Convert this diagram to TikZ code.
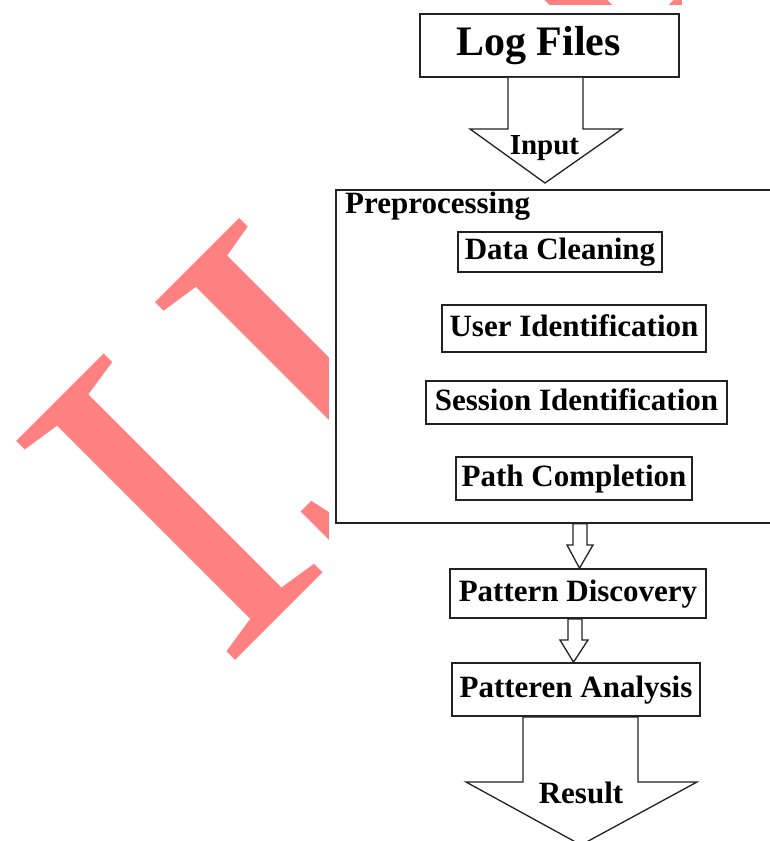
\documentclass[tikz,border=0pt]{standalone}
\usepackage{fontspec}
\setmainfont{Liberation Serif}
\definecolor{wmark}{RGB}{255,128,128}
\definecolor{lineclr}{RGB}{34,34,34}
\begin{document}
\begin{tikzpicture}[x=1pt,y=-1pt,
  box/.style={draw=lineclr, line width=1.7pt, fill=white, inner sep=0pt,
    font=\fontsize{31}{31}\selectfont\bfseries, text height=20.5pt, text depth=5pt},
  lbl/.style={inner sep=0pt, font=\fontsize{31}{31}\selectfont\bfseries},
  arr/.style={draw=lineclr, line width=1.3pt, line join=miter, fill=white}]
\useasboundingbox (0,0) rectangle (770,841);
% watermark, partly hidden behind the diagram
\node[rotate=45, anchor=base west, inner sep=0pt, text=wmark,
  font=\fontsize{473}{473}\selectfont] (wm) at (223.5,672.5) {IJ\kern-15pt A\kern-20pt R};
\fill[white] (329,4.5) rectangle (800,860);
\fill[white] (682,-10) rectangle (800,5);
% Log Files
\node[box, minimum width=259pt, minimum height=63pt] (log) at (549.5,45.5) {};
\node[lbl, anchor=base, font=\fontsize{42}{42}\selectfont\bfseries] (logt) at (538.5,55) {Log Files};
% Input arrow
\draw[arr] (508,0 |- log.south) -- (508,129) -- (470,129) -- (545,183) -- (622,129) -- (583,129) -- (583,0 |- log.south);
\node[lbl, anchor=base, font=\fontsize{29}{29}\selectfont\bfseries] (inp) at (544.5,154.3) {Input};
% Preprocessing container
\node[box, anchor=north west, minimum width=445pt, minimum height=333pt] (pre) at (335,189) {};
\node[lbl, anchor=base west] (pret) at (345,213) {Preprocessing};
\node[box, minimum width=204pt, minimum height=40pt] (dc) at (560,252) {Data Cleaning};
\node[box, minimum width=264pt, minimum height=47pt] (ui) at (574,328.5) {User Identification};
\node[box, minimum width=301pt, minimum height=43pt] (si) at (576.5,402.5) {Session Identification};
\node[box, minimum width=236pt, minimum height=43pt] (pc) at (574,478.5) {Path Completion};
% Pattern Discovery / Analysis
\node[box, minimum width=256pt, minimum height=49pt] (pd) at (578,593.5) {Pattern Discovery};
\node[box, minimum width=248pt, minimum height=53pt] (pa) at (576,689.5) {Patteren Analysis};
% small arrows
\draw[arr] (573,0 |- pre.south) -- (573,545) -- (567,545) -- (579.5,0 |- pd.north) -- (593,545) -- (587,545) -- (587,0 |- pre.south) -- cycle;
\draw[arr] (568,0 |- pd.south) -- (568,640) -- (560,640) -- (573.5,0 |- pa.north) -- (588,640) -- (582,640) -- (582,0 |- pd.south) -- cycle;
% Result arrow
\coordinate (restip) at (581,845);
\draw[arr] (523,0 |- pa.south) -- (523,782) -- (466,782) -- (restip) -- (697,782) -- (638,782) -- (638,0 |- pa.south) -- cycle;
\node[lbl, anchor=base] (res) at (581,803) {Result};
\end{tikzpicture}
\end{document}
